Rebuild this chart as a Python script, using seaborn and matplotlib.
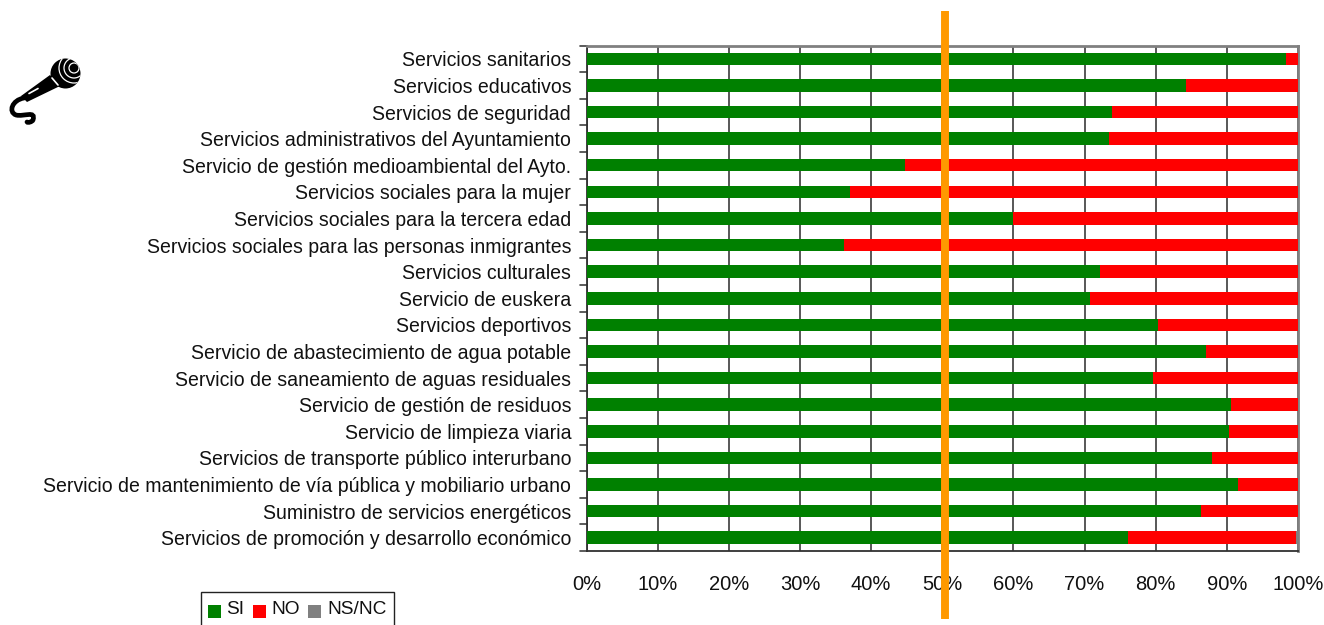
import matplotlib
matplotlib.use("Agg")
import matplotlib.pyplot as plt
import seaborn as sb
import pandas as pd
from matplotlib.patches import Circle, Rectangle, Polygon, PathPatch
from matplotlib.path import Path
from matplotlib.lines import Line2D

servicios = [
    "Servicios sanitarios",
    "Servicios educativos",
    "Servicios de seguridad",
    "Servicios administrativos del Ayuntamiento",
    "Servicio de gestión medioambiental del Ayto.",
    "Servicios sociales para la mujer",
    "Servicios sociales para la tercera edad",
    "Servicios sociales para las personas inmigrantes",
    "Servicios culturales",
    "Servicio de euskera",
    "Servicios deportivos",
    "Servicio de abastecimiento de agua potable",
    "Servicio de saneamiento de aguas residuales",
    "Servicio de gestión de residuos",
    "Servicio de limpieza viaria",
    "Servicios de transporte público interurbano",
    "Servicio de mantenimiento de vía pública y mobiliario urbano",
    "Suministro de servicios energéticos",
    "Servicios de promoción y desarrollo económico",
]
si = [98.3, 84.2, 73.9, 73.5, 44.8, 37.0, 60.0, 36.2, 72.2, 70.8,
      80.3, 87.0, 79.6, 90.6, 90.3, 87.9, 91.6, 86.4, 76.1]
no = [1.7, 15.8, 26.1, 26.5, 55.2, 63.0, 40.0, 63.8, 27.8, 29.2,
      19.7, 13.0, 20.4, 9.4, 9.7, 12.1, 8.4, 13.6, 23.6]
ns_nc = [0.0] * 18 + [0.3]
x_ticks = list(range(0, 101, 10))
ref_line = 50.4

W, H = 1324, 625
L, R, T, B = 586.5, 1298, 45.5, 551
GREEN, RED, GREY = "#008000", "#ff0000", "#808080"
AXCOL = "#808080"

sb.set_style("white")
plt.rcParams["font.family"] = ["Liberation Sans", "DejaVu Sans"]

df = pd.DataFrame({"servicio": servicios, "si": si, "no": no, "ns": ns_nc})
df["si_no"] = df["si"] + df["no"]
df["total"] = df["si_no"] + df["ns"]

fig = plt.figure(figsize=(W / 100, H / 100), dpi=100)
ax = fig.add_axes([L / W, 1 - B / H, (R - L) / W, (B - T) / H])

# stacked by drawing the longest bar first
for col, c in [("total", GREY), ("si_no", RED), ("si", GREEN)]:
    sb.barplot(data=df, y="servicio", x=col, color=c, width=0.47, saturation=1,
               orient="h", ax=ax, linewidth=0, zorder=3)

ax.set_xlim(0, 100)
ax.set_ylim(len(servicios) - 0.5, -0.5)
ax.set_xlabel("")
ax.set_ylabel("")
ax.set_xticks(x_ticks)
ax.set_xticklabels([f"{t}%" for t in x_ticks], fontsize=14.5, color="#111111")
ax.set_yticks(range(len(servicios)))
ax.set_yticklabels(servicios, fontsize=14.05, color="#111111")
ax.tick_params(axis="y", length=0, pad=11)
ax.tick_params(axis="x", length=4, width=1.2, color="#404040", pad=13)
ax.xaxis.grid(True, color="#4a4a4a", lw=1.3, zorder=1)
ax.yaxis.grid(False)
ax.set_axisbelow(True)

# ticks sit between the categories on this chart
for k in range(len(servicios) + 1):
    ax.plot([-0.009, 0], [k - 0.5, k - 0.5], color="#404040", lw=1.2,
            transform=ax.get_yaxis_transform(), clip_on=False)

for s in ["top", "right"]:
    ax.spines[s].set_visible(True)
    ax.spines[s].set_color(AXCOL)
    ax.spines[s].set_linewidth(2)
for s in ["left", "bottom"]:
    ax.spines[s].set_visible(True)
    ax.spines[s].set_color("#303030")
    ax.spines[s].set_linewidth(1.3)

# orange reference line, runs past the plot area
row = (B - T) / len(servicios)
ax.plot([ref_line, ref_line], [-0.5 - (T - 11) / row, 18.5 + (619 - B) / row], color="#ff9900",
        lw=5.7, solid_capstyle="butt", clip_on=False, zorder=6)

def fx(x): return x / W
def fy(y): return 1 - y / H

# legend, its box is cut off by the bottom of the picture
fig.add_artist(Rectangle((fx(200.5), fy(632)), 193 / W, 40 / H, fc="white", ec="#222222", lw=1.0,
                         transform=fig.transFigure))
for x0, c, lab, xt in [(208, GREEN, "SI", 226.5), (253, RED, "NO", 271.5), (308, GREY, "NS/NC", 327)]:
    fig.add_artist(Rectangle((fx(x0), fy(618)), 13 / W, 13 / H, fc=c, ec="none", transform=fig.transFigure))
    fig.text(fx(xt), fy(609.5), lab, fontsize=13.8, color="#111111", ha="left", va="center")

# microphone icon, pixel positions with y measured from the top
def p(x, y): return (x, H - y)

fig.add_artist(Polygon([p(50, 75), p(60, 86), p(27, 102), p(21, 96)], closed=True, fc="black", ec="none", transform=None))
cable = Path([p(24, 98), p(12, 100), p(8, 112), p(16, 115), p(24, 117), p(36, 110), p(33, 120), p(32, 122), p(28, 123), p(27, 122)],
             [Path.MOVETO, Path.CURVE4, Path.CURVE4, Path.CURVE4, Path.CURVE4, Path.CURVE4, Path.CURVE4, Path.CURVE4, Path.CURVE4, Path.CURVE4])
fig.add_artist(PathPatch(cable, fc="none", ec="black", lw=3.4, capstyle="round", transform=None))
head = Circle(p(65.5, 73.5), 15, fc="black", ec="none", transform=None)
fig.add_artist(head)
for r in [5, 10, 15]:
    ring = Circle(p(74, 68), r, fc="none", ec="white", lw=0.9, transform=None)
    fig.add_artist(ring)
    ring.set_clip_path(head)
fig.add_artist(Line2D([52, 58], [H - 78, H - 85], color="white", lw=1.2, transform=None))
fig.add_artist(Line2D([29, 38], [H - 93.5, H - 88.5], color="white", lw=1.2, transform=None))

fig.savefig("out.png", dpi=100)
